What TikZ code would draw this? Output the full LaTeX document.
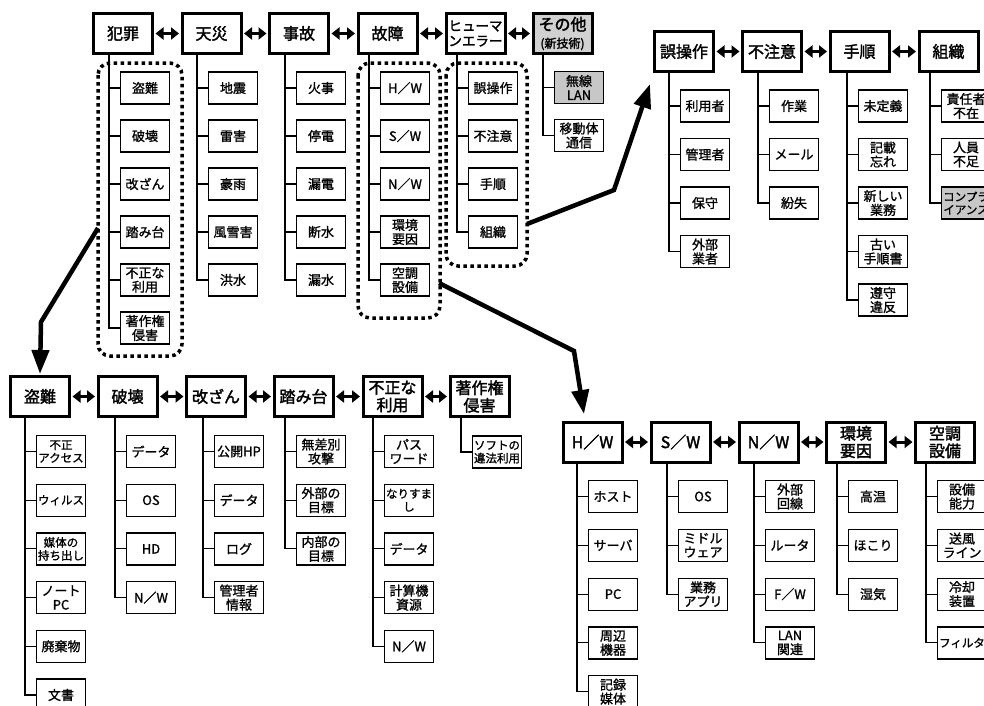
\documentclass[tikz,border=0pt]{standalone}
\usepackage{fontspec}
\setmainfont{Noto Sans CJK JP}[RawFeature={embolden=1.2}]
\newfontfamily\hfont{Noto Sans CJK JP}[RawFeature={embolden=2}]
\usetikzlibrary{arrows.meta}
\newcommand\nar{\fontsize{11.5}{13}\selectfont}
\tikzset{
 hdr/.style={draw, line width=3pt, minimum width=59pt, minimum height=40pt, inner sep=0pt, align=center, font=\hfont\fontsize{16}{17.5}\selectfont, fill=white},
 hdrn/.style={hdr, font=\hfont\fontsize{13.5}{15}\selectfont},
 hdrg/.style={hdr, fill=black!18},
 child/.style={draw, line width=1.2pt, minimum width=49pt, minimum height=32pt, inner sep=0pt, align=center, font=\fontsize{13}{14}\selectfont, fill=white},
 childn/.style={child, font=\nar},
 childg/.style={child, fill=black!22},
 childgn/.style={childn, fill=black!22},
 tree/.style={line width=1.1pt},
 dbl/.style={line width=3pt, shorten <=1.5pt, shorten >=1.5pt, {Triangle[length=8pt,width=12pt]}-{Triangle[length=8pt,width=12pt]}},
 dotbox/.style={line width=3.5pt, dash pattern=on 3.5pt off 3.5pt, rounded corners=12pt},
 bigarrow/.style={line width=4.5pt, -{Triangle[length=24pt,width=17pt]}},
}
\newcommand\mkgroup[9]{%
  \node[#2] (#1) at (#3,#4) {#8};
  \coordinate (#1-L) at (#5,#4);
  \foreach \tx/\st [count=\i] in {#9} {
    \node[\st] (#1-\i) at ({#5+36},{#6+(\i-1)*#7}) {\tx};
    \draw[tree] (#1.south -| #1-L) |- (#1-\i.west);
  }
}
\begin{document}
\begin{tikzpicture}[x=1pt,y=-1pt]
\useasboundingbox (0,0) rectangle (984,705);
\fill[white] (0,0) rectangle (984,705);
% dotted groupings
\draw[dotbox] (98,63) rectangle (182,356);
\draw[dotbox] (358,63) rectangle (440,318);
\draw[dotbox] (446,63) rectangle (527,266);
% top row
\mkgroup{c}{hdr}{123}{33.5}{109}{88}{48}{犯罪}{盗難/child, 破壊/child, 改ざん/child, 踏み台/child, {不正な\\利用}/child, {著作権\\侵害}/child}
\mkgroup{n}{hdr}{211.5}{33.5}{197}{88}{48}{天災}{地震/child, 雷害/child, 豪雨/child, 風雪害/child, 洪水/child}
\mkgroup{ac}{hdr}{299}{33.5}{285}{88}{48}{事故}{火事/child, 停電/child, 漏電/child, 断水/child, 漏水/child}
\mkgroup{f}{hdr}{387.5}{33.5}{369}{88}{48}{故障}{H／W/child, S／W/child, N／W/child, {環境\\要因}/child, {空調\\設備}/child}
\mkgroup{h}{hdrn}{475.5}{33.5}{457}{88}{48}{ヒューマ\\ンエラー}{誤操作/child, 不注意/child, 手順/child, 組織/child}
\mkgroup{o}{hdrg}{562.5}{33.5}{543}{87.5}{48}{その他\\{\fontsize{12}{13}\selectfont (新技術)}}{{無線\\LAN}/childg, {移動体\\通信}/child}
\foreach \a/\b in {c/n, n/ac, ac/f, f/h, h/o} \draw[dbl] (\a.east) -- (\b.west);
% top right
\mkgroup{g1}{hdr}{684}{51.5}{669}{106}{48.5}{誤操作}{利用者/child, 管理者/child, 保守/child, {外部\\業者}/child}
\mkgroup{g2}{hdr}{772}{51.5}{758}{106}{48.5}{不注意}{作業/child, メール/child, 紛失/child}
\mkgroup{g3}{hdr}{859.5}{51.5}{847}{106}{48.5}{手順}{未定義/child, {記載\\忘れ}/child, {新しい\\業務}/child, {古い\\手順書}/child, {遵守\\違反}/child}
\mkgroup{g4}{hdr}{948.5}{51.5}{930}{106}{48.5}{組織}{{責任者\\不在}/child, {人員\\不足}/child, {コンプラ\\イアンス}/childgn}
\foreach \a/\b in {g1/g2, g2/g3, g3/g4} \draw[dbl] (\a.east) -- (\b.west);
% bottom left
\mkgroup{b1}{hdr}{40}{396.5}{25}{451.5}{48.7}{盗難}{{不正\\アクセス}/childn, ウィルス/childn, {媒体の\\持ち出し}/childn, {ノート\\PC}/child, 廃棄物/child, 文書/child}
\mkgroup{b2}{hdr}{127.5}{396.5}{115}{451.5}{48.7}{破壊}{データ/child, OS/child, HD/child, N／W/child}
\mkgroup{b3}{hdr}{216}{396.5}{203}{451.5}{48.7}{改ざん}{公開HP/child, データ/child, ログ/child, {管理者\\情報}/child}
\mkgroup{b4}{hdr}{303.5}{396.5}{285}{451.5}{48.7}{踏み台}{{無差別\\攻撃}/child, {外部の\\目標}/child, {内部の\\目標}/child}
\mkgroup{b5}{hdr}{392.5}{396.5}{373}{451.5}{48.7}{不正な\\利用}{{パス\\ワード}/child, {なりすま\\し}/childn, データ/child, {計算機\\資源}/child, N／W/child}
\mkgroup{b6}{hdr}{479.5}{396.5}{461}{452}{48.7}{著作権\\侵害}{{ソフトの\\違法利用}/childn}
\foreach \a/\b in {b1/b2, b2/b3, b3/b4, b4/b5, b5/b6} \draw[dbl] (\a.east) -- (\b.west);
% bottom right
\mkgroup{r1}{hdr}{592.5}{442}{577}{496.5}{48.8}{H／W}{ホスト/child, サーバ/child, PC/child, {周辺\\機器}/child, {記録\\媒体}/child}
\mkgroup{r2}{hdr}{680.5}{442}{667}{496.5}{48.8}{S／W}{OS/child, {ミドル\\ウェア}/child, {業務\\アプリ}/child}
\mkgroup{r3}{hdr}{768.5}{442}{754}{496.5}{48.8}{N／W}{{外部\\回線}/child, ルータ/child, F／W/child, {LAN\\関連}/child}
\mkgroup{r4}{hdr}{856}{442}{837}{496.5}{48.8}{環境\\要因}{高温/child, ほこり/child, 湿気/child}
\mkgroup{r5}{hdr}{945}{442}{926}{496.5}{48.8}{空調\\設備}{{設備\\能力}/child, {送風\\ライン}/child, {冷却\\装置}/child, フィルタ/childn}
\foreach \a/\b in {r1/r2, r2/r3, r3/r4, r4/r5} \draw[dbl] (\a.east) -- (\b.west);
% big arrows
\coordinate (a1s) at (98,228);
\coordinate (a1m) at (41,322);
\coordinate (a1e) at (40,374);
\draw[bigarrow] (a1s) -- (a1m) -- (a1e);
\coordinate (a2s) at (527,224);
\coordinate (a2m) at (614,190);
\coordinate (a2e) at (650,84);
\draw[bigarrow] (a2s) -- (a2m) -- (a2e);
\coordinate (a3s) at (439,283);
\coordinate (a3m) at (574,351);
\coordinate (a3e) at (584,414);
\draw[bigarrow] (a3s) -- (a3m) -- (a3e);
\end{tikzpicture}
\end{document}
